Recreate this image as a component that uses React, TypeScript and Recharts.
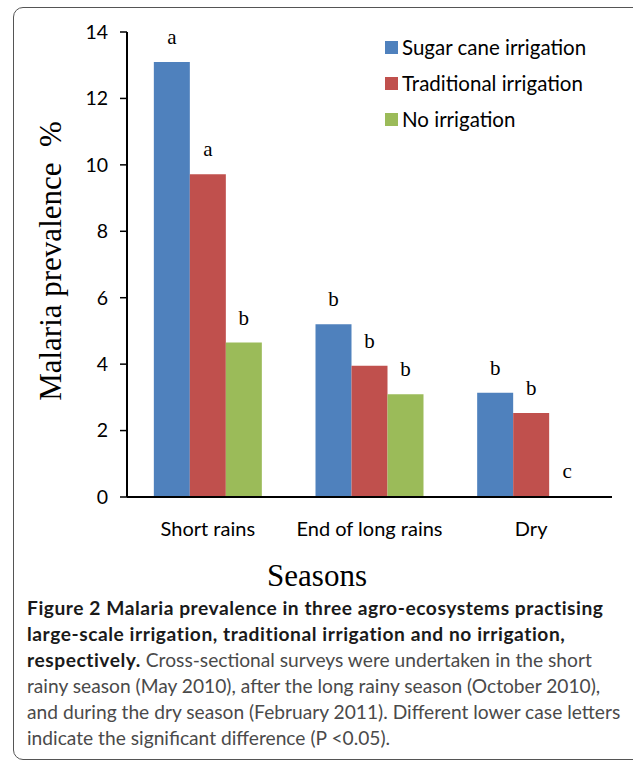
import React from 'react';
import {
  BarChart, Bar, XAxis, YAxis, LabelList, Legend, Rectangle,
} from 'recharts';

const seasons = ['Short rains', 'End of long rains', 'Dry'];
const sugarCane = [13.1, 5.2, 3.14];
const traditional = [9.72, 3.95, 2.53];
const noIrrigation = [4.65, 3.09, 0];
const sugarCaneLetters = ['a', 'b', 'b'];
const traditionalLetters = ['a', 'b', 'b'];
const noIrrigationLetters = ['b', 'b', 'c'];
const yTicks = [0, 2, 4, 6, 8, 10, 12, 14];
const boundaryTicks = [0, 1, 2, 3];

const SERIES = [
  { key: 'sugar', name: 'Sugar cane irrigation', color: '#4F81BD' },
  { key: 'trad', name: 'Traditional irrigation', color: '#C0504D' },
  { key: 'none', name: 'No irrigation', color: '#9BBB59' },
];

const data = seasons.map((season, i) => ({
  season,
  sugar: sugarCane[i],
  trad: traditional[i],
  none: noIrrigation[i],
  sugarSig: sugarCaneLetters[i],
  tradSig: traditionalLetters[i],
  noneSig: noIrrigationLetters[i],
}));

const SANS = 'Lato, "Open Sans", sans-serif';
const SERIF = '"Liberation Serif", "DejaVu Serif", serif';

// legend drawn in series order, not the order recharts hands back
function LegendBox() {
  return (
    <div>
      {SERIES.map((s) => (
        <div key={s.key} style={{ display: 'flex', alignItems: 'center', height: 36 }}>
          <span style={{ width: 13, height: 13, background: s.color, marginRight: 4, flex: 'none' }} />
          <span style={{ fontFamily: SANS, fontSize: 20.5, color: '#000', whiteSpace: 'nowrap' }}>{s.name}</span>
        </div>
      ))}
    </div>
  );
}

// zero-valued bars keep a 1px rect (so the letter still shows) but draw nothing
function BarShape(props: any) {
  const key = props.dataKey;
  if (!props.payload || !props.payload[key]) return <g />;
  return <Rectangle {...props} />;
}

const bold = { fontWeight: 700, color: '#1a1a1a', letterSpacing: 0.55 };

export default function App() {
  return (
    <div style={{ position: 'absolute', left: 0, top: 0, width: 633, height: 761, background: '#fff', overflow: 'hidden' }}>
      <div
        style={{
          position: 'absolute', left: 13, top: 7, width: 630, height: 751,
          border: '1.5px solid #555', borderRadius: 10,
        }}
      />

      <div style={{ position: 'absolute', left: 0, top: 0 }}>
        <BarChart
          width={633}
          height={600}
          data={data}
          margin={{ top: 32, right: 21, left: 67, bottom: 0 }}
          barGap={0}
          barCategoryGap="16.6%"
        >
          <XAxis
            xAxisId="bounds"
            type="number"
            domain={[0, 3]}
            ticks={boundaryTicks}
            allowDataOverflow
            height={0}
            axisLine={false}
            tick={false}
            tickSize={7}
            tickLine={{ stroke: '#000', strokeWidth: 1.5 }}
          />
          <XAxis
            dataKey="season"
            height={103}
            axisLine={{ stroke: '#000', strokeWidth: 2 }}
            tickLine={false}
            tickSize={0}
            tickMargin={25}
            tick={{ fill: '#000', fontSize: 20, fontFamily: SANS }}
          />
          <YAxis
            width={60}
            domain={[0, 14]}
            ticks={yTicks}
            axisLine={{ stroke: '#000', strokeWidth: 2 }}
            tickLine={{ stroke: '#000', strokeWidth: 1.5 }}
            tickSize={7}
            tickMargin={12}
            tick={{ fill: '#000', fontSize: 19.5, fontFamily: SANS }}
          />
          <Legend
            layout="horizontal"
            verticalAlign="middle"
            align="center"
            content={<LegendBox />}
            wrapperStyle={{ position: 'absolute', left: 385, top: 29, width: 240 }}
          />
          {SERIES.map((s) => (
            <Bar
              key={s.key}
              dataKey={s.key}
              name={s.name}
              fill={s.color}
              minPointSize={1}
              shape={<BarShape />}
              isAnimationActive={false}
            >
              <LabelList
                dataKey={`${s.key}Sig`}
                position="top"
                offset={18}
                fill="#000"
                fontSize={21}
                fontFamily={SERIF}
              />
            </Bar>
          ))}
        </BarChart>
      </div>

      <div
        style={{
          position: 'absolute', left: 50, top: 261, transform: 'translate(-50%, -50%) rotate(-90deg)',
          whiteSpace: 'pre', fontFamily: SERIF, fontSize: 31, color: '#000', lineHeight: 1,
        }}
      >
        {'Malaria prevalence  %'}
      </div>

      <div
        style={{
          position: 'absolute', left: 317, top: 575, transform: 'translate(-50%, -50%)',
          whiteSpace: 'pre', fontFamily: SERIF, fontSize: 31, color: '#000', lineHeight: 1,
        }}
      >
        Seasons
      </div>

      <div
        style={{
          position: 'absolute', left: 27, top: 595, fontFamily: SANS, fontSize: 19.2,
          lineHeight: '26px', color: '#4a4a4a', whiteSpace: 'pre',
        }}
      >
        <div style={bold}>Figure 2 Malaria prevalence in three agro-ecosystems practising</div>
        <div style={bold}>large-scale irrigation, traditional irrigation and no irrigation,</div>
        <div><span style={bold}>respectively.</span> Cross-sectional surveys were undertaken in the short</div>
        <div>rainy season (May 2010), after the long rainy season (October 2010),</div>
        <div>and during the dry season (February 2011). Different lower case letters</div>
        <div>indicate the significant difference (P {'<'}0.05).</div>
      </div>
    </div>
  );
}
